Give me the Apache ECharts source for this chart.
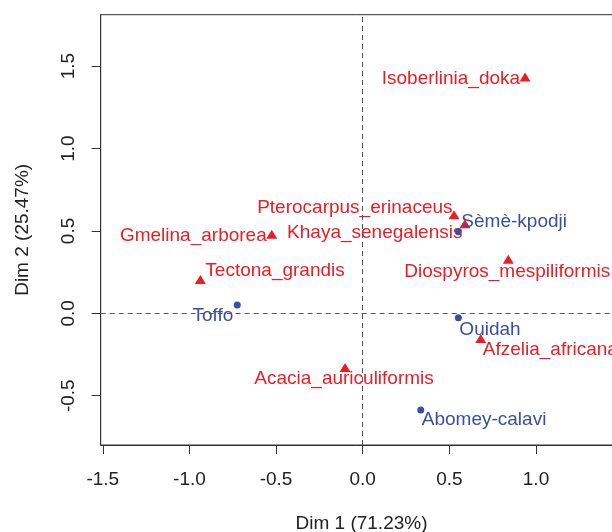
<!DOCTYPE html>
<html>
<head>
<meta charset="utf-8">
<script src="https://cdn.jsdelivr.net/npm/echarts@6/dist/echarts.min.js"></script>
<style>
  html, body { margin: 0; padding: 0; background: #fff; overflow: hidden; }
  #chart { width: 612px; height: 532px; }
</style>
</head>
<body>
<div id="chart"></div>
<script>
// species (column points)
const speciesNames = [
  'Isoberlinia_doka', 'Pterocarpus_erinaceus', 'Khaya_senegalensis',
  'Gmelina_arborea', 'Diospyros_mespiliformis', 'Tectona_grandis',
  'Afzelia_africana', 'Acacia_auriculiformis'
];
const speciesDim1 = [0.937, 0.527, 0.590, -0.525, 0.840, -0.937, 0.681, -0.102];
const speciesDim2 = [1.434, 0.598, 0.543, 0.480, 0.328, 0.205, -0.153, -0.329];

// sites (row points)
const siteNames = ['Sèmè-kpodji', 'Toffo', 'Ouidah', 'Abomey-calavi'];
const siteDim1 = [0.552, -0.724, 0.552, 0.335];
const siteDim2 = [0.495, 0.050, -0.027, -0.587];

const xTicks = [-1.5, -1.0, -0.5, 0.0, 0.5, 1.0];
const yTicks = [-0.5, 0.0, 0.5, 1.0, 1.5];

const RED = '#EC1C24';
const BLUE = '#3A4FA3';
const FONT = 'Liberation Sans, Arial, sans-serif';

// where each label sits relative to its point: [align, dx, dy]
const labelPlacement = {
  'Isoberlinia_doka': ['right', -5, 2],
  'Pterocarpus_erinaceus': ['right', -1.5, -7],
  'Khaya_senegalensis': ['right', -2.5, 9],
  'Gmelina_arborea': ['right', -5, 2],
  'Diospyros_mespiliformis': ['center', -1, 12],
  'Tectona_grandis': ['left', 5, -8.5],
  'Afzelia_africana': ['left', 2, 11.5],
  'Acacia_auriculiformis': ['center', -1, 11.5],
  'Sèmè-kpodji': ['left', 3, -10],
  'Toffo': ['right', -4, 11],
  'Ouidah': ['left', 1, 12],
  'Abomey-calavi': ['left', 1, 10]
};

function buildPoints(names, xs, ys, color) {
  return names.map((name, i) => {
    const p = labelPlacement[name];
    return {
      name: name,
      value: [xs[i], ys[i]],
      label: {
        show: true,
        formatter: name,
        position: 'inside',
        align: p[0],
        verticalAlign: 'middle',
        offset: [p[1], p[2]],
        color: color,
        opacity: 1,
        fontSize: 19,
        fontFamily: FONT
      }
    };
  });
}

const chart = echarts.init(document.getElementById('chart'), null, { renderer: 'canvas' });

const axisText = { color: '#222', fontSize: 19, fontFamily: FONT };

const option = {
  animation: false,
  backgroundColor: '#fff',
  grid: {
    left: 100.7,
    top: 14.7,
    width: 521.6,
    height: 430.3,
    show: true,
    borderColor: '#333',
    borderWidth: 1,
    containLabel: false,
    outerBoundsMode: 'none'
  },
  xAxis: {
    type: 'value',
    min: -1.512,
    max: 1.498,
    name: 'Dim 1 (71.23%)',
    nameLocation: 'middle',
    nameGap: 69,
    nameTextStyle: axisText,
    axisLine: { show: true, onZero: false, lineStyle: { color: '#333', width: 1 } },
    axisTick: { show: true, inside: false, length: 9, customValues: xTicks, lineStyle: { color: '#333' } },
    axisLabel: {
      customValues: xTicks,
      margin: 25,
      color: '#222',
      fontSize: 19,
      fontFamily: FONT,
      formatter: v => v.toFixed(1)
    },
    splitLine: { show: false }
  },
  yAxis: {
    type: 'value',
    min: -0.799,
    max: 1.812,
    name: 'Dim 2 (25.47%)',
    nameLocation: 'middle',
    nameGap: 68,
    nameTextStyle: axisText,
    axisLine: { show: true, onZero: false, lineStyle: { color: '#333', width: 1 } },
    axisTick: { show: true, inside: false, length: 9, customValues: yTicks, lineStyle: { color: '#333' } },
    axisLabel: {
      customValues: yTicks,
      rotate: 90,
      margin: 22,
      color: '#222',
      fontSize: 19,
      fontFamily: FONT,
      formatter: v => v.toFixed(1)
    },
    splitLine: { show: false }
  },
  series: [
    {
      name: 'species',
      type: 'scatter',
      symbol: 'triangle',
      symbolSize: [11, 9],
      itemStyle: { color: RED, opacity: 1 },
      data: buildPoints(speciesNames, speciesDim1, speciesDim2, RED),
      markLine: {
        silent: true,
        symbol: 'none',
        label: { show: false },
        lineStyle: { color: '#555', width: 1, type: [5, 4], opacity: 1 },
        data: [{ xAxis: 0 }, { yAxis: 0 }]
      },
      z: 2
    },
    {
      name: 'sites',
      type: 'scatter',
      symbol: 'circle',
      symbolSize: 7,
      itemStyle: { color: BLUE, opacity: 1 },
      data: buildPoints(siteNames, siteDim1, siteDim2, BLUE),
      z: 3
    }
  ]
};

chart.setOption(option);
</script>
</body>
</html>
